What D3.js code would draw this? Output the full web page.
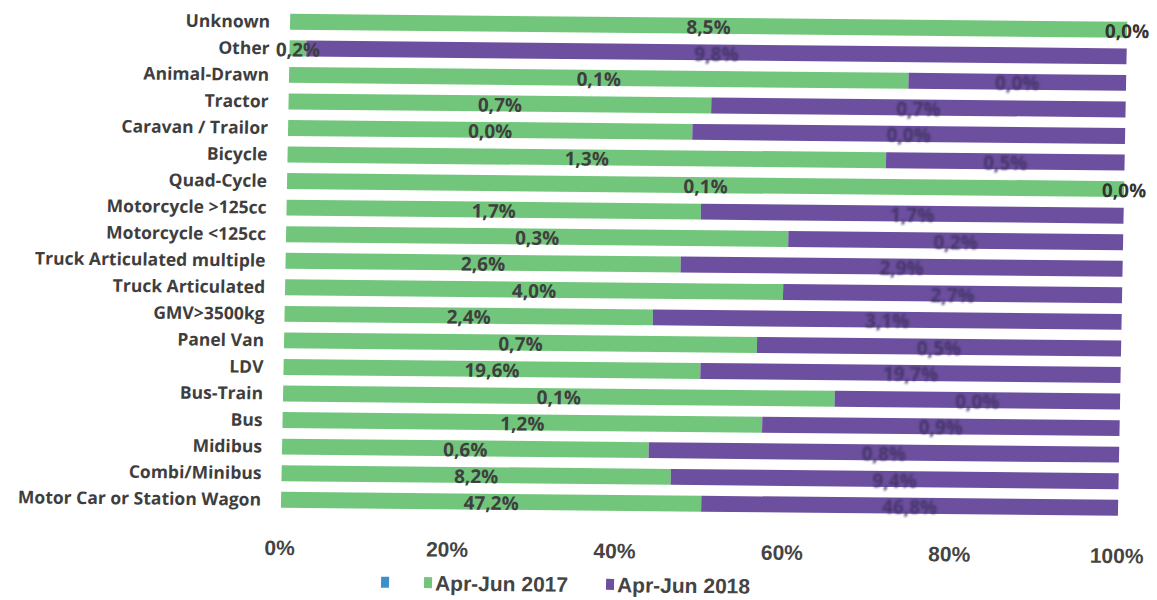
<!DOCTYPE html>
<html>
<head>
<meta charset="utf-8">
<script src="https://cdn.jsdelivr.net/npm/d3@7"></script>
<style>
  body { margin: 0; background: #fff; }
  svg { display: block; }
</style>
</head>
<body>
<svg></svg>
<script>
// categories, top to bottom
var categories = ['Unknown','Other','Animal-Drawn','Tractor','Caravan / Trailor','Bicycle','Quad-Cycle',
  'Motorcycle >125cc','Motorcycle <125cc','Truck Articulated multiple','Truck Articulated','GMV>3500kg',
  'Panel Van','LDV','Bus-Train','Bus','Midibus','Combi/Minibus','Motor Car or Station Wagon'];

// share of each row (100% stacked)
var share2017 = [100, 2, 74, 50.5, 48.3, 71.5, 100, 49.5, 60, 47.2, 59.5, 44, 56.5, 49.8, 65.9, 57.3, 43.8, 46.5, 50.2];
var share2018 = [0, 98, 26, 49.5, 51.7, 28.5, 0, 50.5, 40, 52.8, 40.5, 56, 43.5, 50.2, 34.1, 42.7, 56.2, 53.5, 49.8];

// data labels
var label2017 = ['8,5%','0,2%','0,1%','0,7%','0,0%','1,3%','0,1%','1,7%','0,3%','2,6%','4,0%','2,4%','0,7%','19,6%','0,1%','1,2%','0,6%','8,2%','47,2%'];
var label2018 = ['0,0%','9,8%','0,0%','0,7%','0,0%','0,5%','0,0%','1,7%','0,2%','2,9%','2,7%','3,1%','0,5%','19,7%','0,0%','0,9%','0,8%','9,4%','46,8%'];

var ticks = [0, 20, 40, 60, 80, 100];
var seriesNames = ['', 'Apr-Jun 2017', 'Apr-Jun 2018'];
var seriesColors = ['#3d8fc9', '#72c67b', '#6c4f9e'];

var width = 1157, height = 600;
var svg = d3.select('svg').attr('width', width).attr('height', height);

var defs = svg.append('defs');
defs.append('filter').attr('id', 'soft')
  .append('feGaussianBlur').attr('stdDeviation', 1);

// the scanned chart is a little crooked: leans left going down, drops going right
var g = svg.append('g').attr('transform', 'translate(0,-3) skewY(0.55) skewX(-1.08)');

var rows = categories.map(function(c, i) {
  return { cat: c, a: share2017[i], b: share2018[i], la: label2017[i], lb: label2018[i] };
});

var x = d3.scaleLinear().domain([0, 100]).range([290.5, 1127.5]);
var y = d3.scaleBand().domain(categories).range([8.7, 513.3]).paddingInner(0.4).paddingOuter(0.2);

// green segment
g.selectAll('rect.s2017')
  .data(rows)
  .enter()
  .append('rect')
  .attr('class', 's2017')
  .attr('x', x(0))
  .attr('y', d => y(d.cat))
  .attr('width', d => x(d.a) - x(0))
  .attr('height', y.bandwidth())
  .attr('fill', seriesColors[1]);

// purple segment
g.selectAll('rect.s2018')
  .data(rows)
  .enter()
  .append('rect')
  .attr('class', 's2018')
  .attr('x', d => x(d.a))
  .attr('y', d => y(d.cat))
  .attr('width', d => x(d.a + d.b) - x(d.a))
  .attr('height', y.bandwidth())
  .attr('fill', seriesColors[2]);

// category labels
g.selectAll('text.cat')
  .data(rows)
  .enter()
  .append('text')
  .attr('class', 'cat')
  .attr('x', x(0) - 20)
  .attr('y', d => y(d.cat) + y.bandwidth() / 2)
  .attr('dy', '0.35em')
  .attr('text-anchor', 'end')
  .style('font-family', 'Open Sans, sans-serif')
  .style('font-weight', 'bold')
  .style('font-size', '17.5px')
  .style('fill', '#3e3e3e')
  .text(d => d.cat);

// 2017 labels
g.selectAll('text.la')
  .data(rows)
  .enter()
  .append('text')
  .attr('class', 'la')
  .attr('x', d => x(d.a / 2))
  .attr('y', d => y(d.cat) + y.bandwidth() / 2 + 1.5)
  .attr('dy', '0.35em')
  .attr('text-anchor', 'middle')
  .style('font-family', 'Open Sans, sans-serif')
  .style('font-weight', 'bold')
  .style('font-size', '19px')
  .style('fill', '#3f3f3f')
  .text(d => d.la);

// 2018 labels, dark on purple so they almost vanish
g.selectAll('text.lb')
  .data(rows)
  .enter()
  .append('text')
  .attr('class', 'lb')
  .attr('x', d => x(d.a + d.b / 2))
  .attr('y', d => y(d.cat) + y.bandwidth() / 2 + 1.5)
  .attr('dy', '0.35em')
  .attr('text-anchor', 'middle')
  .style('font-family', 'Open Sans, sans-serif')
  .style('font-weight', 'bold')
  .style('font-size', '19px')
  .style('fill', d => d.b === 0 ? '#333' : '#45366a')
  .attr('filter', d => d.b === 0 ? null : 'url(#soft)')
  .text(d => d.lb);

// x axis labels, no line
var axis = g.append('g')
  .attr('transform', 'translate(-1,0)')
  .call(d3.axisBottom(x).tickValues(ticks).tickFormat(d => d + '%').tickSize(0));
axis.select('.domain').remove();
axis.selectAll('text')
  .attr('y', 548)
  .attr('dy', '0.35em')
  .style('font-family', 'Liberation Sans Narrow, sans-serif')
  .style('font-weight', 'bold')
  .style('font-size', '21px')
  .style('fill', '#444');

// legend
var legendX = [392, 435, 617];
var legend = g.selectAll('g.leg')
  .data(seriesNames)
  .enter()
  .append('g')
  .attr('class', 'leg')
  .attr('transform', (d, i) => 'translate(' + legendX[i] + ',582)');
legend.append('rect')
  .attr('x', 0).attr('y', -6)
  .attr('width', 8).attr('height', 11)
  .attr('fill', (d, i) => seriesColors[i]);
legend.append('text')
  .attr('x', 11)
  .attr('dy', '0.35em')
  .style('font-family', 'Liberation Sans Narrow, sans-serif')
  .style('font-weight', 'bold')
  .style('font-size', '21px')
  .style('fill', '#444')
  .text(d => d);
</script>
</body>
</html>
